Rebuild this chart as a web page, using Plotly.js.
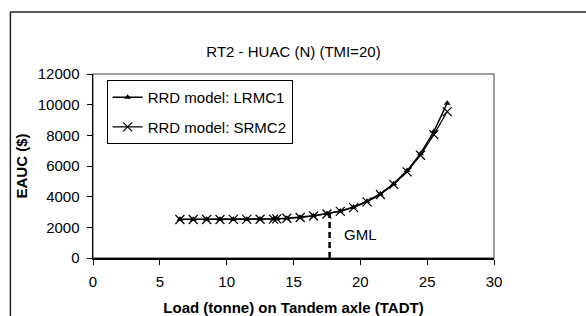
<!DOCTYPE html>
<html>
<head>
<meta charset="utf-8">
<script src="https://cdn.plot.ly/plotly-3.0.1.min.js"></script>
<style>html,body{margin:0;padding:0;background:#fff;overflow:hidden;}#chart{width:586px;height:316px;overflow:hidden;}</style>
</head>
<body>
<div id="chart"></div>
<script>
// Load (tonne) on tandem axle
var loads = [6.5, 7.5, 8.5, 9.5, 10.5, 11.5, 12.5, 13.5, 13.75, 14.5, 15.5, 16.5, 17.5, 18.5, 19.5, 20.5, 21.5, 22.5, 23.5, 24.5, 25.5, 26.5];
// EAUC ($) per series
var lrmc1 = [2520, 2520, 2520, 2520, 2530, 2530, 2540, 2550, 2560, 2600, 2660, 2760, 2900, 3070, 3320, 3700, 4180, 4850, 5700, 6800, 8250, 10100];
var srmc2 = [2510, 2510, 2510, 2510, 2520, 2520, 2530, 2540, 2550, 2590, 2640, 2740, 2870, 3040, 3290, 3660, 4140, 4800, 5620, 6700, 8050, 9550];
var seriesNames = ["RRD model: LRMC1", "RRD model: SRMC2"];
// GML marker line
var gmlX = [17.7, 17.7];
var gmlY = [0, 2880];
var gmlLabel = "GML";
var gmlLabelPos = [20, 1550];
var xTicks = [0, 5, 10, 15, 20, 25, 30];
var xTickText = ["0", "5", "10", "15", "20", "25", "30"];
var yTicks = [0, 2000, 4000, 6000, 8000, 10000, 12000];
var yTickText = ["0", "2000", "4000", "6000", "8000", "10000", "12000"];

var F = "Liberation Sans, Arial, sans-serif";

var traces = [
  {x: loads, y: lrmc1, name: seriesNames[0], mode: "lines+markers", legendgroup: "a",
   line: {color: "#000", width: 1.5}, marker: {symbol: "triangle-up", size: 6, color: "#000"}},
  {x: loads, y: srmc2, name: seriesNames[1], mode: "lines+markers", legendgroup: "b",
   line: {color: "#000", width: 1.2}, marker: {symbol: "x-thin-open", size: 9, line: {color: "#000", width: 1.2}}},
  {x: gmlX, y: gmlY, mode: "lines", showlegend: false, hoverinfo: "skip",
   line: {color: "#000", width: 2.5, dash: "6px,4px"}}
];

var layout = {
  width: 586, height: 316,
  margin: {l: 93, r: 92, t: 74, b: 58},
  paper_bgcolor: "#fff", plot_bgcolor: "#fff",
  font: {family: F, size: 15, color: "#000"},
  showlegend: true,
  title: {text: "RT2 - HUAC (N) (TMI=20)", font: {family: F, size: 15, color: "#000"},
          x: 0.5, xref: "paper", y: 0.835, yref: "container", yanchor: "middle"},
  xaxis: {range: [0, 30], tickvals: xTicks, ticktext: xTickText, ticks: "outside", ticklen: 5, tickcolor: "#000",
          showline: true, linecolor: "#000", linewidth: 1.5, showgrid: false, zeroline: false,
          tickfont: {family: F, size: 15}, fixedrange: true, ticklabelstandoff: 4,
          title: {text: "<b>Load (tonne) on Tandem axle (TADT)</b>", font: {family: F, size: 15}, standoff: 15}},
  yaxis: {range: [0, 12000], tickvals: yTicks, ticktext: yTickText, ticks: "outside", ticklen: 5, tickcolor: "#000",
          showline: true, linecolor: "#000", linewidth: 1.5, showgrid: false, zeroline: false,
          tickfont: {family: F, size: 15}, fixedrange: true, ticklabelstandoff: 4,
          title: {text: "<b>EAUC ($)</b>", font: {family: F, size: 15}, standoff: 6}},
  legend: {x: 0.034, y: 0.967, xanchor: "left", yanchor: "top", bgcolor: "#fff",
           bordercolor: "#000", borderwidth: 1, font: {family: F, size: 15},
           traceorder: "grouped", tracegroupgap: 7, itemwidth: 30},
  annotations: [{x: gmlLabelPos[0], y: gmlLabelPos[1], xref: "x", yref: "y", text: gmlLabel,
                 showarrow: false, font: {family: F, size: 15, color: "#000"}}],
  shapes: [
    {type: "rect", xref: "paper", yref: "paper", x0: 0, x1: 1, y0: 0, y1: 1, layer: "below",
     line: {color: "#7f7f7f", width: 1.5}},
    {type: "line", xref: "paper", yref: "paper", x0: -0.206, x1: -0.206, y0: -0.6, y1: 1.337, layer: "below",
     line: {color: "#222", width: 1.5}},
    {type: "line", xref: "paper", yref: "paper", x0: -0.206, x1: 1.6, y0: 1.337, y1: 1.337, layer: "below",
     line: {color: "#222", width: 1.5}}
  ]
};

Plotly.newPlot("chart", traces, layout, {displayModeBar: false, staticPlot: true});
</script>
</body>
</html>
